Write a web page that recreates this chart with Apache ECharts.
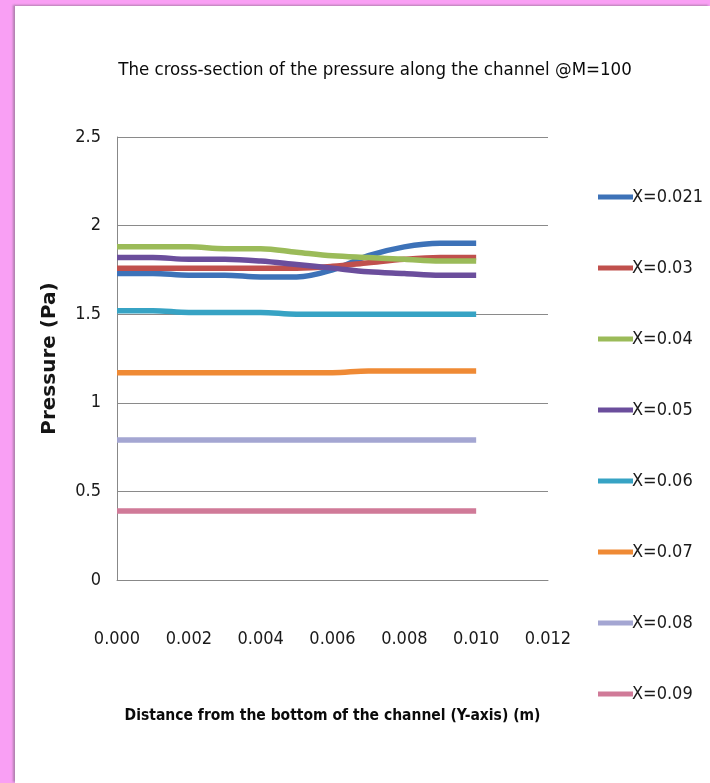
<!DOCTYPE html>
<html>
<head>
<meta charset="utf-8">
<script src="https://cdn.jsdelivr.net/npm/echarts@6/dist/echarts.min.js"></script>
<style>
  html, body { margin: 0; padding: 0; }
  body { width: 710px; height: 783px; background: #f99ff4; position: relative; overflow: hidden; }
  #chart { position: absolute; left: 15px; top: 6px; width: 695px; height: 777px; background: #fff;
           box-shadow: -2px -1px 2px rgba(90,90,90,0.45); }
</style>
</head>
<body>
<div id="chart"></div>
<script>
// Distance from the channel bottom (m)
const positions = [0, 0.001, 0.002, 0.003, 0.004, 0.005, 0.006, 0.007, 0.008, 0.009, 0.010];

// Series names (axial station X)
const seriesNames = ['X=0.021', 'X=0.03', 'X=0.04', 'X=0.05', 'X=0.06', 'X=0.07', 'X=0.08', 'X=0.09'];

// Pressure (Pa) at each position, one array per station
const pX0021 = [1.73, 1.73, 1.72, 1.72, 1.71, 1.71, 1.75, 1.83, 1.88, 1.90, 1.90];
const pX003  = [1.76, 1.76, 1.76, 1.76, 1.76, 1.76, 1.77, 1.79, 1.81, 1.82, 1.82];
const pX004  = [1.88, 1.88, 1.88, 1.87, 1.87, 1.85, 1.83, 1.82, 1.81, 1.80, 1.80];
const pX005  = [1.82, 1.82, 1.81, 1.81, 1.80, 1.78, 1.76, 1.74, 1.73, 1.72, 1.72];
const pX006  = [1.52, 1.52, 1.51, 1.51, 1.51, 1.50, 1.50, 1.50, 1.50, 1.50, 1.50];
const pX007  = [1.17, 1.17, 1.17, 1.17, 1.17, 1.17, 1.17, 1.18, 1.18, 1.18, 1.18];
const pX008  = [0.79, 0.79, 0.79, 0.79, 0.79, 0.79, 0.79, 0.79, 0.79, 0.79, 0.79];
const pX009  = [0.39, 0.39, 0.39, 0.39, 0.39, 0.39, 0.39, 0.39, 0.39, 0.39, 0.39];

// Axis ticks
const xTicks = { min: 0, max: 0.012, step: 0.002 };
const yTicks = { min: 0, max: 2.5, step: 0.5 };

const seriesValues = [pX0021, pX003, pX004, pX005, pX006, pX007, pX008, pX009];
const colors = ['#3d72b8', '#c0504d', '#9bbb59', '#6b4e9c', '#37a3c4', '#ef8a35', '#a4a6d2', '#d07a98'];

const narrow = '"DejaVu Sans Condensed", "Liberation Sans Narrow", Roboto, sans-serif';

const chart = echarts.init(document.getElementById('chart'), null, { renderer: 'canvas' });

chart.setOption({
  animation: false,
  backgroundColor: '#ffffff',
  color: colors,
  title: {
    text: 'The cross-section of the pressure along the channel @M=100',
    left: 355,
    top: 50,
    textAlign: 'center',
    textStyle: { fontFamily: narrow, fontSize: 18.5, fontWeight: 'normal', color: '#0a0a0a' }
  },
  legend: {
    orient: 'vertical',
    left: 583,
    top: 181,
    padding: 0,
    itemWidth: 35,
    itemHeight: 5,
    itemGap: 51,
    icon: 'rect',
    data: seriesNames,
    textStyle: { fontFamily: narrow, fontSize: 18, lineHeight: 20, color: '#1a1a1a', padding: [0, 0, 0, -6] }
  },
  grid: { left: 102, right: 162, top: 131, bottom: 203, containLabel: false },
  xAxis: {
    type: 'value',
    min: xTicks.min,
    max: xTicks.max,
    interval: xTicks.step,
    name: 'Distance from the bottom of the channel (Y-axis) (m)',
    nameLocation: 'middle',
    nameGap: 128,
    nameTextStyle: { fontFamily: narrow, fontSize: 15.5, fontWeight: 'bold', color: '#0a0a0a' },
    axisLine: { show: true, lineStyle: { color: '#888', width: 1 } },
    axisTick: { show: false },
    splitLine: { show: false },
    axisLabel: {
      margin: 50,
      fontFamily: narrow, fontSize: 18, color: '#1a1a1a',
      formatter: v => v.toFixed(3)
    }
  },
  yAxis: {
    type: 'value',
    min: yTicks.min,
    max: yTicks.max,
    interval: yTicks.step,
    name: 'Pressure (Pa)',
    nameLocation: 'middle',
    nameGap: 57,
    nameTextStyle: { fontFamily: '"DejaVu Sans", sans-serif', fontSize: 20, fontWeight: 'bold', color: '#151515' },
    axisLine: { show: true, lineStyle: { color: '#888', width: 1 } },
    axisTick: { show: false },
    splitLine: { show: true, lineStyle: { color: '#8a8a8a', width: 1 } },
    axisLabel: {
      margin: 16,
      fontFamily: narrow, fontSize: 18, color: '#1a1a1a',
      formatter: v => String(v)
    }
  },
  series: seriesNames.map((name, i) => ({
    name: name,
    type: 'line',
    smooth: 0.35,
    showSymbol: false,
    symbol: 'none',
    lineStyle: { width: 5.5, color: colors[i] },
    itemStyle: { color: colors[i] },
    data: positions.map((x, k) => [x, seriesValues[i][k]])
  }))
});
</script>
</body>
</html>
